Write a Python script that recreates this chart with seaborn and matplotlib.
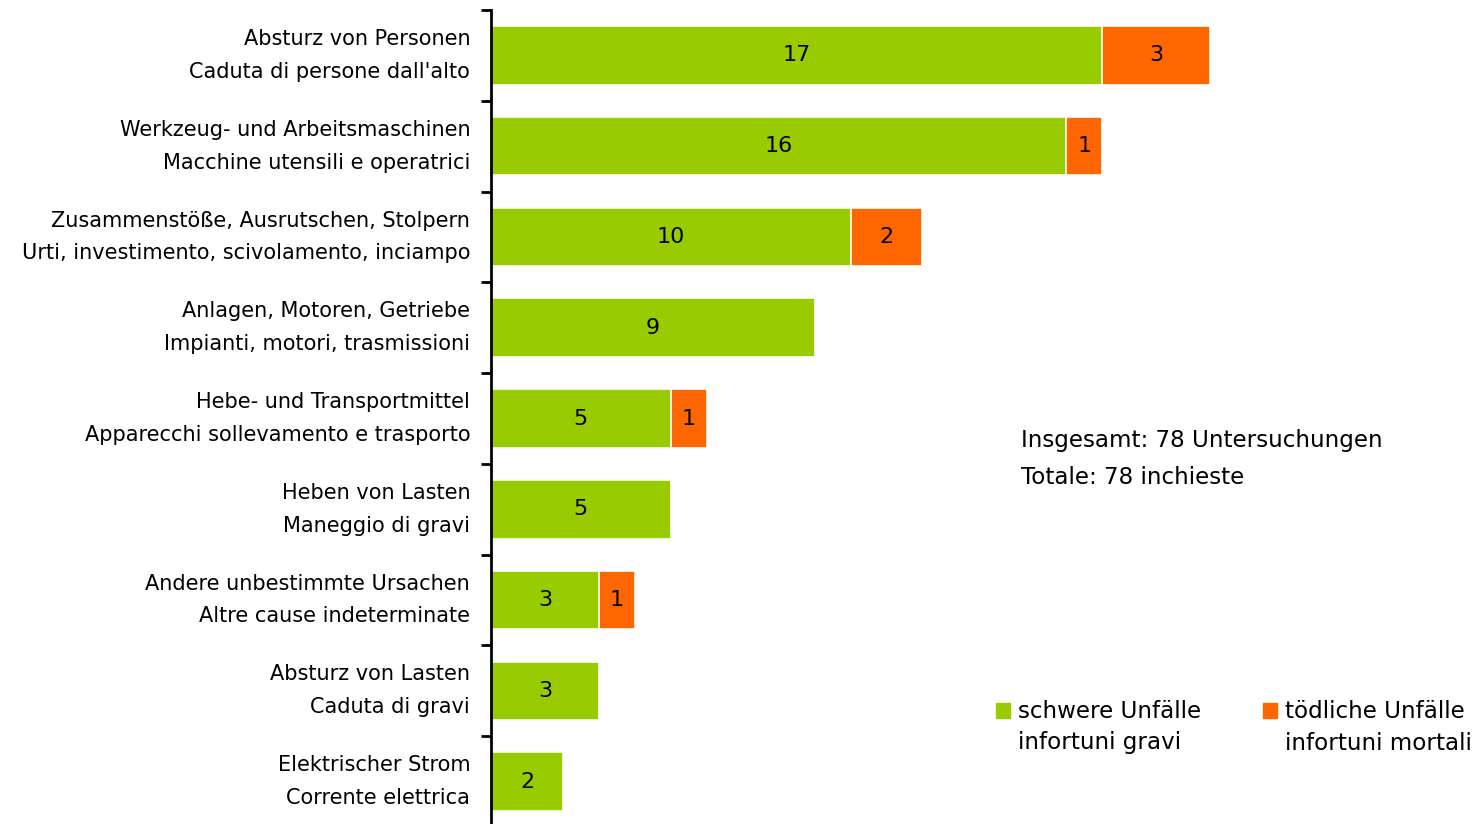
import matplotlib
matplotlib.use("Agg")
import matplotlib.pyplot as plt
import matplotlib.patches as mpatches
import seaborn as sns
import pandas as pd

labels_de = ["Absturz von Personen", "Werkzeug- und Arbeitsmaschinen",
             "Zusammenstöße, Ausrutschen, Stolpern", "Anlagen, Motoren, Getriebe",
             "Hebe- und Transportmittel", "Heben von Lasten",
             "Andere unbestimmte Ursachen", "Absturz von Lasten", "Elektrischer Strom"]
labels_it = ["Caduta di persone dall'alto", "Macchine utensili e operatrici",
             "Urti, investimento, scivolamento, inciampo", "Impianti, motori, trasmissioni",
             "Apparecchi sollevamento e trasporto", "Maneggio di gravi",
             "Altre cause indeterminate", "Caduta di gravi", "Corrente elettrica"]
schwere = [17, 16, 10, 9, 5, 5, 3, 3, 2]
toedliche = [3, 1, 2, 0, 1, 0, 1, 0, 0]
legend_de = ["schwere Unfälle", "tödliche Unfälle"]
legend_it = ["infortuni gravi", "infortuni mortali"]
note = "Insgesamt: 78 Untersuchungen\nTotale: 78 inchieste"

green = "#99CC00"
orange = "#FF6600"

df = pd.DataFrame({
    "cat": [f"{d}\n{i}" for d, i in zip(labels_de, labels_it)],
    "schwere": schwere,
    "toedliche": toedliche,
})
df["total"] = df["schwere"] + df["toedliche"]

sns.set_style("white")
plt.rcParams["font.family"] = ["DejaVu Sans"]
plt.rcParams["text.color"] = "black"
fs = 15
fs_big = 16.6

fig = plt.figure(figsize=(14.79, 8.24), dpi=100)
ax = fig.add_axes([491 / 1479, -3 / 824, 0.64, 817 / 824])

sns.barplot(data=df, x="total", y="cat", color=orange, saturation=1,
            width=0.645, edgecolor="white", linewidth=1.2, ax=ax)
sns.barplot(data=df, x="schwere", y="cat", color=green, saturation=1,
            width=0.645, edgecolor="white", linewidth=1.2, ax=ax)

for i, (g, t) in enumerate(zip(df["schwere"], df["toedliche"])):
    ax.text(g / 2, i, str(g), ha="center", va="center", fontsize=16, color="black")
    if t > 0:
        ax.text(g + t / 2, i, str(t), ha="center", va="center", fontsize=16, color="black")

ax.set_xlim(0, 0.64 * 1479 / 35.95)
ax.set_ylim(len(df) - 0.5, -0.5)
ax.set_xlabel("")
ax.set_ylabel("")
ax.set_xticks([])
for s in ["top", "right", "bottom"]:
    ax.spines[s].set_visible(False)
ax.spines["left"].set_linewidth(2)
ax.spines["left"].set_color("black")

ax.set_yticks(range(len(df)))
ax.set_yticklabels(df["cat"], fontsize=fs, linespacing=1.8)
ax.tick_params(axis="y", which="major", length=0, pad=15, labelcolor="black")
ax.set_yticks([i - 0.5 for i in range(len(df))], minor=True)
ax.tick_params(axis="y", which="minor", length=7, width=2, color="black", left=True)
for lab in ax.get_yticklabels():
    lab.set_ha("right")
    lab.set_va("center")

fig.text(1021 / 1479, 1 - 459 / 824, note, fontsize=fs_big, ha="left", va="center",
         linespacing=1.75)

handles = [mpatches.Patch(color=green), mpatches.Patch(color=orange)]
leg = fig.legend(handles, legend_de, loc="center left",
                 bbox_to_anchor=(996 / 1479, 1 - 712 / 824), ncol=2, frameon=False,
                 fontsize=fs_big, handlelength=0.6, handleheight=0.6, handletextpad=0.35,
                 columnspacing=2.7, borderpad=0, borderaxespad=0)
fig.canvas.draw()
inv = fig.transFigure.inverted()
for txt, sub in zip(leg.get_texts(), legend_it):
    bb = txt.get_window_extent()
    x0, y0 = inv.transform((bb.x0, bb.y0))
    fig.text(x0, y0 - 31 / 824, sub, fontsize=fs_big, ha="left", va="bottom")

fig.savefig("out.png", dpi=100)
